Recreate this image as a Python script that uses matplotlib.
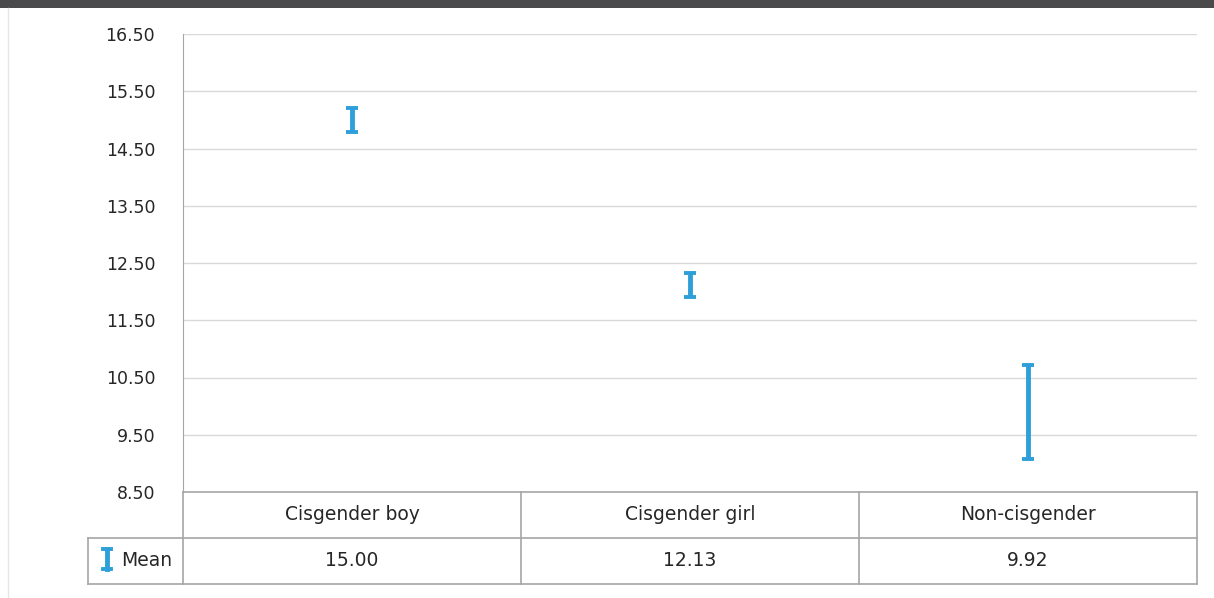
import matplotlib.pyplot as plt
from matplotlib.lines import Line2D
from matplotlib.patches import Rectangle

# Mean score with error bar bounds per group
categorias = ['Cisgender boy', 'Cisgender girl', 'Non-cisgender']
medias = [15.00, 12.13, 9.92]
limite_inf = [14.79, 11.91, 9.08]
limite_sup = [15.21, 12.33, 10.72]
rotulos_media = ['15.00', '12.13', '9.92']
ticks_y = [8.5, 9.5, 10.5, 11.5, 12.5, 13.5, 14.5, 15.5, 16.5]

W, H = 1214, 598
azul = '#2e9fd8'
cinza = '#a6a6a6'
texto = '#262626'

plt.rcParams['font.family'] = ['DejaVu Sans']

fig = plt.figure(figsize=(W / 100, H / 100), dpi=100)


def fx(x):
    return x / W


def fy(y):
    return 1 - y / H


# Faixa escura no topo e borda esquerda
fig.add_artist(Rectangle((0, fy(8)), 1, 8 / H, transform=fig.transFigure,
                         color='#4a4a4c', lw=0))
fig.add_artist(Line2D([fx(8), fx(8)], [fy(8), 0], transform=fig.transFigure,
                      color='#e6e6e6', lw=1))

x0, x1, ytop, ybot = 183, 1197, 34, 492
ax = fig.add_axes([fx(x0), fy(ybot), (x1 - x0) / W, (ybot - ytop) / H])

pos = list(range(len(categorias)))
erro_inf = [m - l for m, l in zip(medias, limite_inf)]
erro_sup = [u - m for m, u in zip(medias, limite_sup)]
ax.errorbar(pos, medias, yerr=[erro_inf, erro_sup], fmt='none', ecolor=azul,
            elinewidth=3.5, capsize=4.5, capthick=2.8, zorder=3)

ax.set_xlim(-0.5, len(categorias) - 0.5)
ax.set_ylim(ticks_y[0], ticks_y[-1])
ax.set_yticks(ticks_y)
ax.set_yticklabels([f'{t:.2f}' for t in ticks_y], fontsize=12.5, color=texto)
ax.set_xticks([])
ax.tick_params(axis='y', length=0, pad=20)
ax.grid(axis='y', color='#d9d9d9', lw=1)
ax.set_axisbelow(True)
for s in ['top', 'right', 'bottom']:
    ax.spines[s].set_visible(False)
ax.spines['left'].set_color(cinza)

# Tabela de dados abaixo do gráfico
col_w = (x1 - x0) / len(categorias)
y_head, y_mid, y_end = 492, 538, 584
lx = 88
linhas = [
    ([x0, x1], [y_head, y_head]),
    ([lx, x1], [y_mid, y_mid]),
    ([lx, x1], [y_end, y_end]),
    ([lx, lx], [y_mid, y_end]),
]
for i in range(len(categorias) + 1):
    xc = x0 + i * col_w
    linhas.append(([xc, xc], [y_head, y_end]))
for xs, ys in linhas:
    fig.add_artist(Line2D([fx(v) for v in xs], [fy(v) for v in ys],
                          transform=fig.transFigure, color=cinza, lw=1.2))

for i, (cat, rot) in enumerate(zip(categorias, rotulos_media)):
    xc = fx(x0 + (i + 0.5) * col_w)
    fig.text(xc, fy((y_head + y_mid) / 2), cat, ha='center', va='center',
             fontsize=13.5, color=texto)
    fig.text(xc, fy((y_mid + y_end) / 2), rot, ha='center', va='center',
             fontsize=13.5, color=texto)

# Ícone da legenda
ix = 107
fig.add_artist(Line2D([fx(ix), fx(ix)], [fy(549), fy(569)], transform=fig.transFigure,
                      color=azul, lw=3.5))
for yy in (549, 569):
    fig.add_artist(Line2D([fx(ix - 4), fx(ix + 4)], [fy(yy), fy(yy)],
                          transform=fig.transFigure, color=azul, lw=2.8))
fig.text(fx(121), fy((y_mid + y_end) / 2), 'Mean', ha='left', va='center',
         fontsize=13.5, color=texto)

fig.savefig('out.png', dpi=100)
